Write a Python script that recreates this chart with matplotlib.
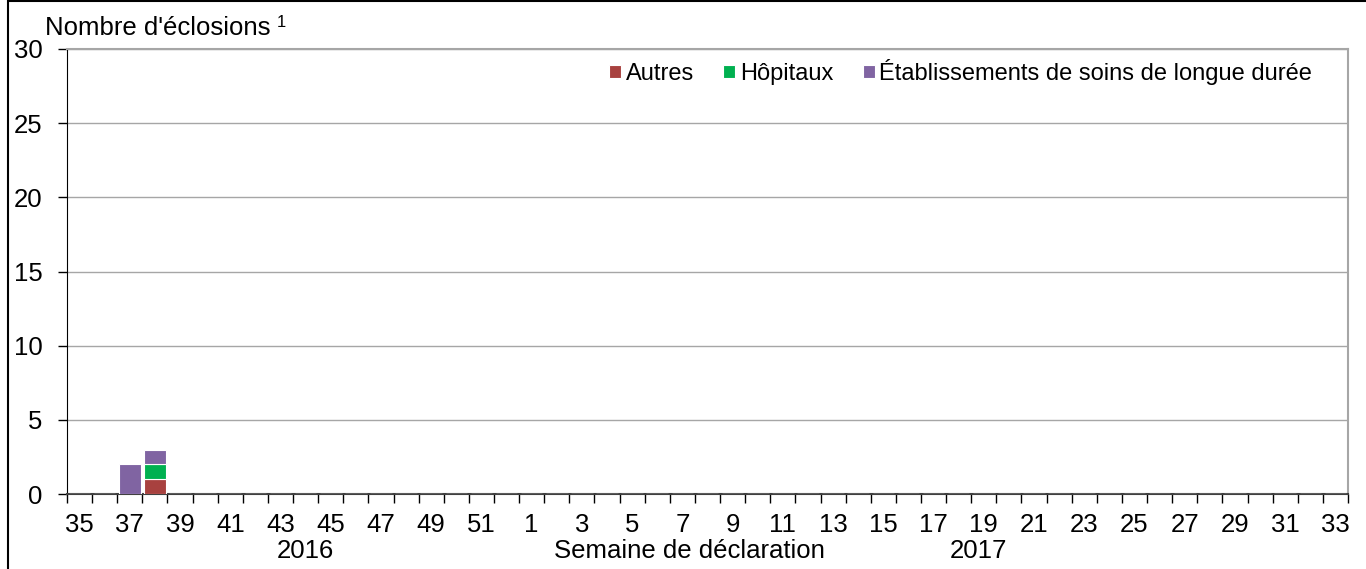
"""Éclosions par semaine de déclaration, 2016-2017 (stacked weekly bars)."""

import matplotlib.pyplot as plt
from matplotlib.patches import Rectangle

plt.rcParams["font.family"] = ["Liberation Sans", "DejaVu Sans"]

# Weeks 35..52 of 2016 then 1..33 of 2017
weeks = list(range(35, 53)) + list(range(1, 34))
autres = [0] * len(weeks)
hopitaux = [0] * len(weeks)
soins_longue_duree = [0] * len(weeks)
# observed counts
autres[weeks.index(38)] = 1
hopitaux[weeks.index(38)] = 1
soins_longue_duree[weeks.index(37)] = 2
soins_longue_duree[weeks.index(38)] = 1

series_names = ["Autres", "Hôpitaux", "Établissements de soins de longue durée"]
colors = ["#A8413F", "#00B050", "#8064A2"]
y_ticks = [0, 5, 10, 15, 20, 25, 30]

FS = 18.5

fig = plt.figure(figsize=(13.66, 5.69), dpi=100)
ax = fig.add_axes([67 / 1366, 1 - 494 / 569, (1348 - 67) / 1366, (494 - 49) / 569])

x = list(range(len(weeks)))
bottom = [0] * len(weeks)
for vals, name, col in zip([autres, hopitaux, soins_longue_duree], series_names, colors):
    ax.bar(x, vals, bottom=bottom, width=0.86, color=col, edgecolor="white",
           linewidth=0.8, label=name, zorder=3)
    bottom = [b + v for b, v in zip(bottom, vals)]

ax.set_xlim(-0.5, len(weeks) - 0.5)
ax.set_ylim(0, 30)
ax.set_yticks(y_ticks)
ax.tick_params(axis="y", labelsize=FS, length=6.5, width=1, pad=11, direction="out")
ax.grid(axis="y", color="#A6A6A6", linewidth=1, zorder=0)

# labels at category centres (every other week), ticks at category boundaries
ax.set_xticks(x[::2])
ax.set_xticklabels([str(w) for w in weeks[::2]], fontsize=FS)
ax.set_xticks([i - 0.5 for i in range(len(weeks) + 1)], minor=True)
ax.tick_params(axis="x", which="major", length=0, pad=14)
ax.tick_params(axis="x", which="minor", length=6.5, width=1, direction="out")

for side in ["top", "right"]:
    ax.spines[side].set_color("#A6A6A6")
    ax.spines[side].set_linewidth(1.5)
ax.spines["left"].set_color("black")
ax.spines["bottom"].set_color("#404040")
ax.spines["bottom"].set_linewidth(1.5)

fig.text(45 / 1366, 1 - 40 / 569, "Nombre d'éclosions", fontsize=FS, va="bottom")
fig.text(277 / 1366, 1 - 30 / 569, "1", fontsize=12, va="bottom")

trans = ax.get_xaxis_transform()
ax.text(weeks.index(44), -0.127, "2016", transform=trans, fontsize=FS,
        ha="center", va="center")
ax.text(weeks.index(19) - 0.2, -0.127, "2017", transform=trans, fontsize=FS,
        ha="center", va="center")
ax.text(24.3, -0.127, "Semaine de déclaration", transform=trans, fontsize=FS,
        ha="center", va="center")

ax.legend(loc="upper right", bbox_to_anchor=(0.985, 1.015), ncol=3, frameon=False,
          fontsize=17, handlelength=0.5, handleheight=0.5, handletextpad=0.2,
          columnspacing=1.25, borderaxespad=0.3)

# outer frame of the original figure
fig.add_artist(Rectangle((8 / 1366, -0.1), 1.2, 1.1 - 1.5 / 569,
                         transform=fig.transFigure, fill=False,
                         edgecolor="black", linewidth=1.5, clip_on=False))

fig.savefig("out.png", dpi=100)
